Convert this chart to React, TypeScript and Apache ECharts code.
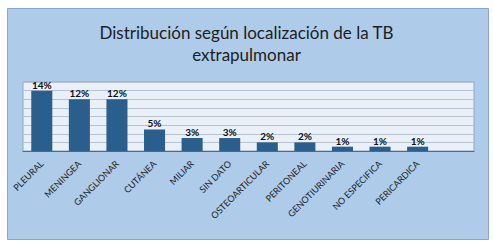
import React, { useEffect, useRef } from "react";
import * as echarts from "echarts";

const categories = [
  "PLEURAL",
  "MENINGEA",
  "GANGLIONAR",
  "CUTÁNEA",
  "MILIAR",
  "SIN DATO",
  "OSTEOARTICULAR",
  "PERITONEAL",
  "GENOTIURINARIA",
  "NO ESPECIFICA",
  "PERICARDICA",
  "",
];
const values = [14, 12, 12, 5, 3, 3, 2, 2, 1, 1, 1, null];
const titleLines = ["Distribución según localización de la TB", "extrapulmonar"];

export default function App() {
  const ref = useRef<HTMLDivElement>(null);
  useEffect(() => {
    if (!ref.current) return;
    const chart = echarts.init(ref.current, undefined, { renderer: "svg" });
    chart.setOption({
      animation: false,
      backgroundColor: "#ffffff",
      graphic: [
        {
          type: "rect",
          z: -10,
          shape: { x: 7.5, y: 8.5, width: 481, height: 231 },
          style: { fill: "#aecbea", stroke: "#8aa8cf", lineWidth: 1 },
        },
      ],
      title: {
        text: titleLines.join("\n"),
        left: "center",
        top: 16,
        textStyle: {
          fontFamily: "Lato",
          fontSize: 17,
          fontWeight: "normal",
          color: "#1e1e1e",
          lineHeight: 22,
        },
      },
      grid: {
        left: 23,
        top: 82,
        width: 451,
        height: 69,
        show: true,
        backgroundColor: "#eaf0f8",
        borderColor: "#8fa6c4",
        borderWidth: 1,
      },
      xAxis: {
        type: "category",
        data: categories,
        axisTick: { show: false },
        axisLine: { lineStyle: { color: "#50698a", width: 1 } },
        axisLabel: {
          interval: 0,
          rotate: 45,
          fontFamily: "Lato",
          fontSize: 9,
          color: "#222",
          margin: 11,
        },
      },
      yAxis: {
        type: "value",
        min: 0,
        max: 16,
        interval: 2,
        axisLabel: { show: false },
        axisLine: { show: false },
        axisTick: { show: false },
        splitLine: { lineStyle: { color: "#b8c1cf", width: 1 } },
      },
      series: [
        {
          type: "bar",
          data: values,
          barWidth: "56%",
          itemStyle: { color: "#2a5e8c" },
          label: {
            show: true,
            position: "top",
            distance: 1,
            formatter: "{c}%",
            fontFamily: "Lato",
            fontWeight: "bold",
            fontSize: 10,
            color: "#111",
          },
        },
      ],
    });
    return () => chart.dispose();
  }, []);
  return (
    <div
      ref={ref}
      style={{ position: "fixed", left: 0, top: 0, width: 493, height: 244 }}
    />
  );
}
